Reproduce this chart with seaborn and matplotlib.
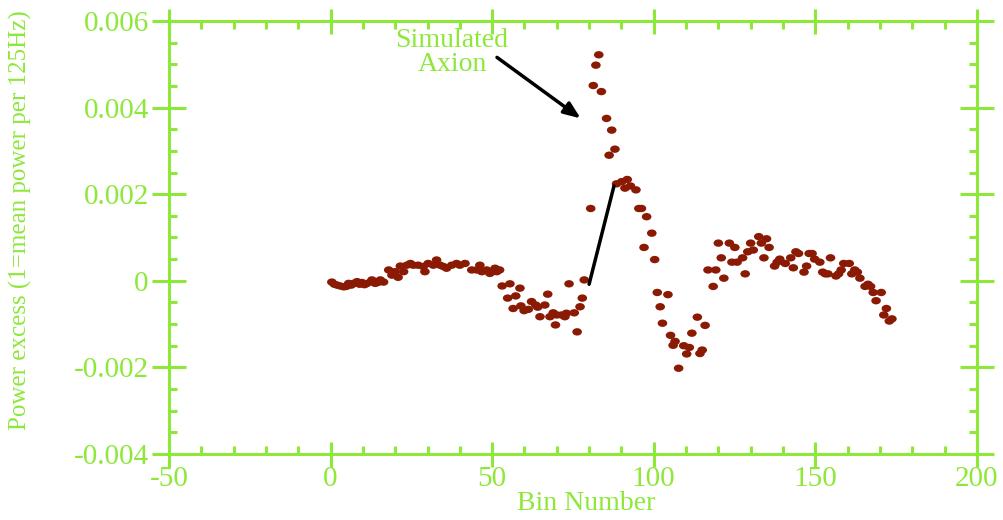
import numpy as np
import matplotlib
matplotlib.use("Agg")
import matplotlib.pyplot as plt
from matplotlib.path import Path
import seaborn as sns

# values
bins = [0.4, 1.2, 2.0, 3.0, 4.1, 4.9, 5.6, 6.4, 7.1, 8.2, 9.0, 9.7, 10.5, 11.3, 12.8, 13.8,
        14.6, 15.4, 16.4, 18.0, 19.0, 20.0, 20.9, 21.6, 22.6, 23.6, 24.7, 25.6, 27.1, 28.7,
        29.2, 30.2, 31.8, 32.8, 33.9, 34.9, 35.9, 37.5, 39.0, 40.0, 41.6, 43.7, 45.2, 46.2,
        46.8, 48.3, 49.3, 50.9, 51.4, 52.3, 53.1, 54.8, 55.5, 56.5, 57.3, 58.6, 58.9, 59.9,
        61.2, 62.2, 63.5, 64.1, 64.8, 66.3, 67.2, 67.9, 68.9, 69.6, 70.0, 71.5, 72.5, 73.0,
        73.8, 75.4, 76.3, 77.2, 77.9, 78.5, 80.5, 81.3, 82.1, 83.0, 83.8, 85.4, 86.2, 87.0,
        88.0, 88.5, 90.1, 91.1, 91.8, 92.8, 94.5, 95.4, 96.2, 97.0, 97.8, 99.4, 100.3, 101.1,
        102.0, 102.7, 104.4, 105.2, 106.0, 106.6, 107.7, 109.3, 110.2, 111.0, 111.8, 113.5,
        114.3, 115.0, 115.9, 116.8, 118.4, 119.2, 120.0, 120.9, 121.7, 123.4, 124.2, 125.1,
        125.8, 127.5, 128.3, 129.1, 130.0, 130.8, 132.5, 133.3, 134.1, 134.9, 135.7, 137.4,
        138.2, 139.0, 140.7, 142.4, 143.2, 144.0, 144.8, 146.5, 147.3, 148.1, 149.0, 149.8,
        151.4, 152.3, 153.1, 153.9, 154.7, 156.4, 157.2, 158.0, 158.8, 160.5, 161.3, 162.2,
        163.0, 163.8, 165.4, 166.3, 167.1, 167.9, 168.8, 170.4, 171.2, 172.0, 172.9, 173.7]

power = [-0.00003, -0.00008, -0.00010, -0.00012, -0.00014, -0.00013, -0.00006, -0.00010,
         -0.00006, -0.00002, -0.00008, -0.00004, -0.00009, -0.00006, 0.00002, -0.00006,
         -0.00004, 0.00002, -0.00003, 0.00025, 0.00013, 0.00021, 0.00008, 0.00034, 0.00021,
         0.00036, 0.00040, 0.00036, 0.00036, 0.00033, 0.00021, 0.00040, 0.00036, 0.00048,
         0.00036, 0.00033, 0.00029, 0.00036, 0.00040, 0.00036, 0.00040, 0.00025, 0.00025,
         0.00036, 0.00021, 0.00025, 0.00017, 0.00029, 0.00021, 0.00025, -0.00012, -0.00040,
         -0.00007, -0.00064, -0.00035, -0.00017, -0.00058, -0.00069, -0.00066, -0.00048,
         -0.00056, -0.00061, -0.00083, -0.00056, -0.00031, -0.00083, -0.00074, -0.00102,
         -0.00079, -0.00079, -0.00083, -0.00075, -0.00007, -0.00074, -0.00118, -0.00060,
         -0.00040, 0.00002, 0.00167, 0.00451, 0.00498, 0.00522, 0.00437, 0.00375, 0.00290,
         0.00348, 0.00304, 0.00224, 0.00229, 0.00214, 0.00234, 0.00219, 0.00210, 0.00167,
         0.00167, 0.00077, 0.00148, 0.00110, 0.00049, -0.00027, -0.00060, -0.00098, -0.00032,
         -0.00126, -0.00149, -0.00140, -0.00202, -0.00150, -0.00169, -0.00154, -0.00121,
         -0.00084, -0.00168, -0.00160, -0.00103, 0.00025, -0.00013, 0.00025, 0.00087,
         0.00053, 0.00006, 0.00087, 0.00043, 0.00077, 0.00043, 0.00053, 0.00016, 0.00067,
         0.00087, 0.00071, 0.00102, 0.00087, 0.00053, 0.00097, 0.00077, 0.00034, 0.00043,
         0.00050, 0.00040, 0.00053, 0.00030, 0.00067, 0.00063, 0.00020, 0.00034, 0.00063,
         0.00063, 0.00050, 0.00043, 0.00020, 0.00016, 0.00016, 0.00053, 0.00011, 0.00016,
         0.00025, 0.00040, 0.00040, 0.00016, 0.00025, 0.00020, 0.00006, -0.00013, -0.00008,
         -0.00013, -0.00027, -0.00046, -0.00027, -0.00079, -0.00064, -0.00093, -0.00088]

x_ticks = [-50, 0, 50, 100, 150, 200]
y_ticks = [-0.004, -0.002, 0, 0.002, 0.004, 0.006]
y_labels = ["-0.004", "-0.002", "0", "0.002", "0.004", "0.006"]

green = "#8de83a"
dot = "#8b1a05"

sns.set_style("white")
plt.rcParams["font.family"] = ["Liberation Serif", "DejaVu Serif"]

fig = plt.figure(figsize=(10.04, 5.20), dpi=100)
ax = fig.add_axes([0.1683, 0.127, 0.8047, 0.8326])

# slightly wide ellipse marker like the original
circ = Path.unit_circle()
ell = Path(circ.vertices * np.array([1.3, 1.0]), circ.codes)

sns.scatterplot(x=bins, y=power, marker=ell, s=48, color=dot, edgecolor="none",
                linewidth=0, ax=ax, zorder=3)

ax.set_xlim(-50, 200)
ax.set_ylim(-0.004, 0.006)
ax.set_xticks(x_ticks)
ax.set_xticklabels([str(t) for t in x_ticks])
ax.set_yticks(y_ticks)
ax.set_yticklabels(y_labels)
ax.set_xticks(np.arange(-50, 201, 10), minor=True)
ax.set_yticks(np.arange(-0.004, 0.00601, 0.0005), minor=True)

for s in ax.spines.values():
    s.set_color(green)
    s.set_linewidth(2.2)

ax.tick_params(axis="x", which="major", direction="inout", length=18, width=2.2,
               color=green, labelcolor=green, labelsize=21, pad=0,
               top=True, bottom=True)
ax.tick_params(axis="y", which="major", direction="inout", length=25, width=2.2,
               color=green, labelcolor=green, labelsize=21, pad=2,
               left=True, right=True)
ax.tick_params(which="minor", direction="in", length=6, width=2.2, color=green,
               top=True, bottom=True, left=True, right=True)

ax.set_xlabel("Bin Number", color=green, fontsize=20)
ax.xaxis.set_label_coords(0.516, -0.086)
ax.set_ylabel("Power excess (1=mean power per 125Hz)", color=green, fontsize=18)
ax.yaxis.set_label_coords(-0.170, 0.54)

# label and arrow pointing to the simulated signal
ax.text(37.6, 0.00527, "Simulated\nAxion", color=green, fontsize=20,
        ha="center", va="center", linespacing=0.95)
ax.annotate("", xy=(77.4, 0.00375), xytext=(51.5, 0.00516),
            arrowprops=dict(arrowstyle="-|>,head_length=1.0,head_width=0.4",
                            color="black", lw=2.5, shrinkA=0, shrinkB=0))

# black connecting line
ax.plot([80.0, 87.7], [-0.00008, 0.00219], color="black", lw=2.5, zorder=4)

fig.savefig("out.png", dpi=100)
